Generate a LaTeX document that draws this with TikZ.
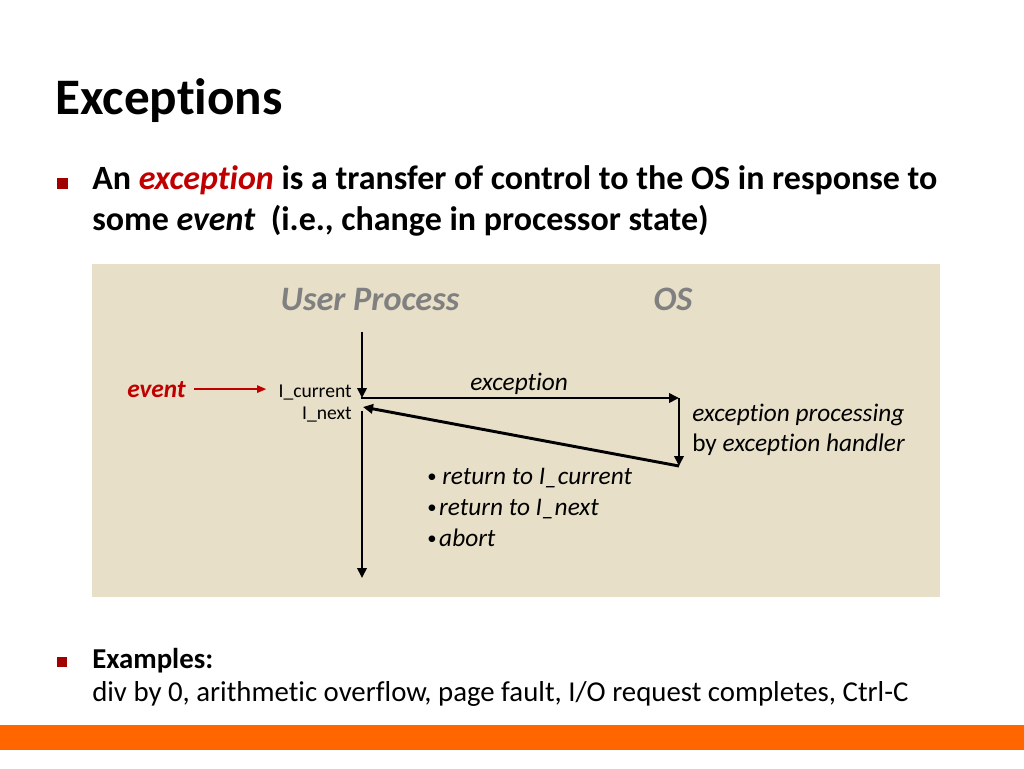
\documentclass[tikz,border=0pt]{standalone}
\usepackage{fontspec}
\setmainfont{Carlito}[RawFeature={-liga}]
\usetikzlibrary{arrows.meta}

\definecolor{panel}{RGB}{231,223,199}
\definecolor{barorange}{RGB}{255,102,0}
\definecolor{darkred}{RGB}{192,0,0}
\definecolor{bulletred}{RGB}{160,0,0}
\definecolor{headgray}{RGB}{128,128,128}

\newcommand{\smallbul}{{\upshape\fontsize{14}{16}\selectfont\raisebox{1pt}{•}}}

\tikzset{
  titletext/.style={anchor=base west, inner sep=0pt, font=\fontsize{38.4}{44}\selectfont\bfseries},
  bodytext/.style={anchor=base west, inner sep=0pt, font=\fontsize{25.5}{30}\selectfont\bfseries},
  plaintext/.style={anchor=base west, inner sep=0pt, font=\fontsize{21.6}{26}\selectfont},
  headtext/.style={anchor=base, inner sep=0pt, text=headgray, font=\fontsize{25.7}{30}\selectfont\bfseries\itshape},
  lbltext/.style={anchor=base west, inner sep=0pt, font=\fontsize{19}{23}\selectfont\itshape},
  instrtext/.style={anchor=base east, inner sep=0pt, font=\fontsize{14.7}{17}\selectfont},
  flow/.style={line width=2.2pt, -{Triangle[length=7.5pt,width=7pt]}},
  evflow/.style={line width=1.4pt, darkred, -{Triangle[length=7pt,width=5.5pt]}},
  sqbullet/.style={fill=bulletred}
}

\begin{document}
\begin{tikzpicture}[x=0.75pt,y=0.75pt,yscale=-1,xscale=1]
\useasboundingbox (0,0) rectangle (1024,768);

\draw (55,114) node (title) [titletext] {Exceptions};

\fill[sqbullet] (57,178) rectangle (68,189);
\draw (92,189) node (def1) [bodytext] {An \textcolor{darkred}{\itshape exception} is a transfer of control to the OS in response to};
\draw (92,230) node (def2) [bodytext] {some \textit{event}\ \ (i.e., change in processor state)};

\fill[panel] (92,264) rectangle (940,597);

\draw (370,310) node (user) [headtext] {User Process};
\draw (673,310) node (os) [headtext] {OS};

\draw (127,397) node (event) [lbltext, text=darkred, font=\fontsize{19}{23}\selectfont\bfseries\itshape] {event};
\draw (352,397) node (cur) [instrtext] {I\_current};
\draw (352,419) node (next) [instrtext] {I\_next};
\draw[evflow, shorten <=6pt, shorten >=9pt] (event.east) -- (cur.west |- event.east);

\coordinate (pTop) at (362,332);
\coordinate (pCur) at (362,398);
\coordinate (pNext) at (363,407);
\coordinate (pRes) at (362,411);
\coordinate (pEnd) at (362,578);
\coordinate (osIn) at (679,398);
\coordinate (osOut) at (679,466);

\draw[flow] (pTop) -- (pCur);
\draw[flow] ([xshift=-1pt]pCur) -- (osIn);
\draw[flow] (osIn) -- (osOut);
\draw[flow] (osOut) -- (pNext);
\draw[flow] (pRes) -- (pEnd);

\draw (470,390) node (exc) [lbltext] {exception};
\draw (692,421) node (proc1) [lbltext] {exception processing};
\draw (692,451) node (proc2) [lbltext] {{\upshape by} exception handler};

\draw (427,484) node (ret1) [lbltext] {\smallbul\ return to I\_current};
\draw (427,515) node (ret2) [lbltext] {\smallbul\hspace{2pt}return to I\_next};
\draw (427,546) node (ret3) [lbltext] {\smallbul\hspace{2pt}abort};

\fill[sqbullet] (57,657) rectangle (67,667);
\draw (92,668) node (ex1) [plaintext, font=\fontsize{21.6}{26}\selectfont\bfseries] {Examples:};
\draw (92,701) node (ex2) [plaintext] {div by 0, arithmetic overflow, page fault, I/O request completes, Ctrl-C};

\fill[barorange] (0,725) rectangle (1024,750);
\end{tikzpicture}
\end{document}
